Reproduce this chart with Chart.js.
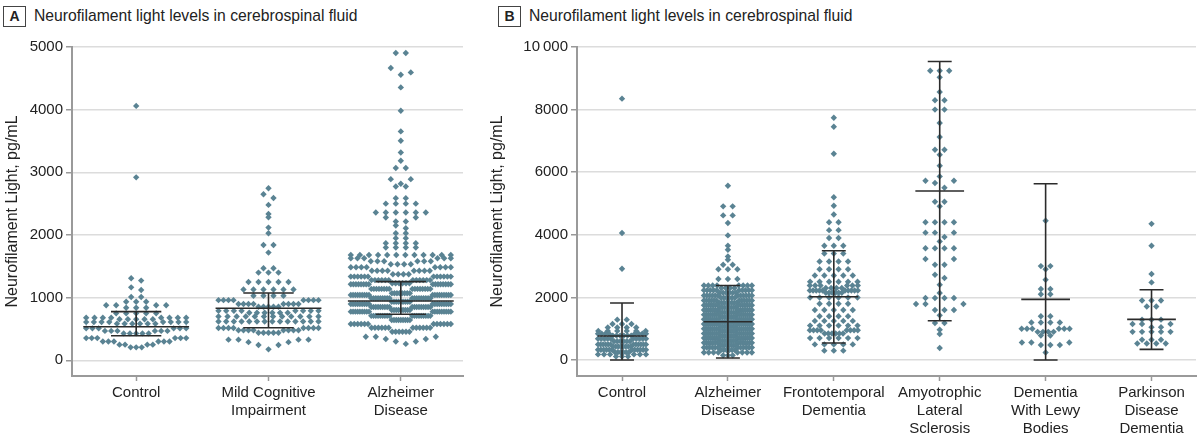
<!DOCTYPE html>
<html>
<head>
<meta charset="utf-8">
<script src="https://cdn.jsdelivr.net/npm/chart.js@4.4.1/dist/chart.umd.min.js"></script>
<style>
  body { margin: 0; background: #fff; font-family: "Liberation Sans", Arial, sans-serif; }
  #wrap { position: relative; width: 1200px; height: 439px; overflow: hidden; }
  .panel { position: absolute; top: 0; height: 439px; }
  .title { position: absolute; top: 6px; font-size: 15.7px; color: #222; white-space: nowrap; line-height: 20px; }
  .tag { display: inline-block; box-sizing: border-box; width: 23px; height: 21px; border: 1px solid #444;
         text-align: center; font-weight: bold; font-size: 14px; line-height: 19px; margin-right: 8px; vertical-align: top; }
</style>
</head>
<body>
<div id="wrap">
  <div class="title" style="left:3px"><span class="tag">A</span>Neurofilament light levels in cerebrospinal fluid</div>
  <div class="title" style="left:498px"><span class="tag">B</span>Neurofilament light levels in cerebrospinal fluid</div>
  <canvas id="chartA" class="panel" style="left:0" width="480" height="439"></canvas>
  <canvas id="chartB" class="panel" style="left:480px" width="720" height="439"></canvas>
</div>
<script>
/**
 * Données (pg/mL).
 * Chaque groupe = liste de rangées ; chaque rangée = niveaux [valeur, nombre],
 * du centre de la rangée vers les bords.
 */

// ---- Panneau A ----
const catsA = [['Control'], ['Mild Cognitive', 'Impairment'], ['Alzheimer', 'Disease']];
const yTicksA = [0, 1000, 2000, 3000, 4000, 5000];
const yLabelsA = ['0', '1000', '2000', '3000', '4000', '5000'];

const controlA = [
    [[4060, 1]], [[2920, 1]],
    [[1272, 1], [1309, 1]], [[1123, 1], [1165, 1]], [[1010, 2]], [[935, 3]],
    [[840, 3], [880, 4]], [[750, 5]], [[655, 5], [680, 8]], [[585, 6], [610, 8]],
    [[430, 5], [470, 6], [510, 6]], [[207, 3], [250, 4], [300, 6], [355, 6]]
];
const mciA = [
    [[2747, 1]], [[2590, 1], [2650, 1]], [[2480, 1]], [[2337, 1]], [[2283, 1]], [[2118, 1]],
    [[2028, 1]], [[1841, 2]], [[1719, 1]], [[1469, 2]], [[1400, 3]], [[1250, 5]], [[1130, 6]],
    [[1030, 4]], [[856, 5], [900, 8], [960, 8]], [[760, 6], [790, 8]], [[700, 12]],
    [[620, 14]], [[440, 5], [480, 8], [515, 8]], [[175, 1], [245, 2], [290, 2], [330, 4]]
];
const adA = [
    [[4904, 2]], [[4558, 1], [4595, 1], [4664, 1]], [[4355, 1]], [[3983, 1]], [[3653, 1]],
    [[3504, 1]], [[3317, 1]], [[3184, 1]], [[3070, 2]], [[2817, 1], [2891, 2]], [[2774, 2]],
    [[2588, 2]], [[2500, 4]], [[2360, 6]], [[2215, 2], [2279, 2]], [[2108, 1], [2151, 1]],
    [[2028, 2]], [[1950, 2]], [[1870, 4]], [[1800, 4]], [[1680, 12]],
    [[1533, 4], [1580, 6], [1630, 6]], [[1374, 4], [1430, 8], [1485, 8]],
    [[1230, 6], [1280, 12], [1336, 12]], [[1070, 8], [1140, 16], [1214, 16]],
    [[936, 9], [990, 18], [1043, 18]], [[803, 9], [850, 18], [899, 18]],
    [[644, 9], [710, 18], [777, 18]], [[457, 6], [520, 12], [580, 12]],
    [[262, 1], [300, 2], [340, 2], [377, 3]]
];
const medianA = [537, 830, 947];
const q1A = [393, 521, 735];
const q3A = [777, 1075, 1256];

// ---- Panneau B ----
const catsB = [['Control'], ['Alzheimer', 'Disease'], ['Frontotemporal', 'Dementia'],
    ['Amyotrophic', 'Lateral', 'Sclerosis'], ['Dementia', 'With Lewy', 'Bodies'],
    ['Parkinson', 'Disease', 'Dementia']];
const yTicksB = [0, 2000, 4000, 6000, 8000, 10000];
const yLabelsB = ['0', '2000', '4000', '6000', '8000', '10\u2009000'];

const controlB = [
    [[8350, 1]], [[4057, 1]], [[2917, 1]],
    [[1290, 2]], [[1150, 3]], [[1040, 4]], [[930, 6]], [[780, 6], [840, 8]],
    [[600, 6], [680, 10]], [[430, 8], [500, 12]], [[250, 6], [330, 12]], [[110, 3], [180, 6]]
];
const adB = [
    [[5569, 1]], [[4909, 2]], [[4620, 2]], [[4376, 1]], [[3982, 1]], [[3652, 1]], [[3524, 1]],
    [[3311, 1]], [[3205, 1]], [[3045, 2]], [[2900, 3]], [[2587, 3]],
    [[2300, 4], [2380, 8]], [[2150, 6], [2230, 10]], [[1990, 6], [2060, 12]],
    [[1830, 8], [1900, 12]], [[1680, 8], [1750, 14]], [[1520, 8], [1600, 14]],
    [[1370, 8], [1450, 16]], [[1220, 8], [1300, 16]], [[1070, 8], [1150, 16]],
    [[920, 8], [1000, 16]], [[770, 8], [850, 16]], [[620, 8], [700, 16]],
    [[470, 8], [550, 14]], [[320, 6], [400, 12]], [[150, 3], [240, 8]]
];
const ftdB = [
    [[7740, 1]], [[7450, 1]], [[6590, 1]], [[5200, 1]], [[4930, 1]], [[4650, 1]], [[4400, 2]],
    [[4150, 2]], [[3900, 2]], [[3650, 3]], [[3400, 3]], [[3150, 4]], [[2900, 4]], [[2700, 5]],
    [[2500, 6]], [[2300, 4], [2380, 6]], [[2150, 6], [2220, 10]], [[2000, 6]], [[1800, 4]],
    [[1600, 5]], [[1400, 4]], [[1250, 5]], [[1100, 6]], [[850, 6], [950, 8]], [[700, 6]],
    [[500, 5]], [[300, 3]]
];
const alsB = [
    [[9240, 3]], [[9030, 1]], [[8562, 1]], [[8300, 2]], [[8000, 2]], [[7570, 1]], [[7124, 1]],
    [[6719, 2]], [[6560, 1]], [[6208, 1]], [[5867, 1]], [[5505, 1], [5654, 1], [5729, 2]],
    [[5058, 2]], [[4909, 1]], [[4400, 4]], [[3929, 1], [4070, 3]], [[3790, 1]], [[3570, 4]],
    [[3045, 2], [3226, 2]], [[2619, 1], [2725, 1]], [[2406, 1]], [[2140, 1]], [[1980, 4]],
    [[1600, 3], [1790, 3]], [[1427, 1]], [[1181, 2]], [[968, 1]], [[830, 1]], [[383, 1]]
];
const dlbB = [
    [[4450, 1]], [[3000, 2]], [[2900, 1]], [[2565, 1]], [[2267, 2]], [[2100, 2]], [[1400, 2]],
    [[1200, 4]], [[900, 4], [1000, 6]], [[780, 2]], [[480, 3], [560, 3]], [[240, 1]]
];
const pddB = [
    [[4350, 1]], [[3650, 1]], [[2747, 1]], [[2480, 1]], [[1900, 3]], [[1710, 2]], [[1290, 3]],
    [[1050, 2], [1150, 3]], [[900, 5]], [[650, 3]], [[530, 4]]
];
const meanB = [767, 1224, 2022, 5400, 1937, 1298];
const upperB = [1821, 2383, 3492, 9537, 5633, 2246];
const lowerB = [0, 64, 543, 1256, 0, 340];

const DOT = '#5a8393';
const INK = '#222';
const FONT = { family: '"Liberation Sans", Arial, sans-serif', size: 15 };

/**
 * Disposition en essaim : chaque rangée est centrée sur la catégorie,
 * les plus petites valeurs au centre, puis alternance droite/gauche.
 */
function swarmPoints(groups, unitPx, maxWidth, maxStep) {
    const pts = [];
    groups.forEach(function(bands, i) {
        bands.forEach(function(levels) {
            const vals = [];
            levels.forEach(function(lv) {
                for (let k = 0; k < lv[1]; k++) vals.push(lv[0]);
            });
            const n = vals.length;
            const step = n > 1 ? Math.min(maxStep, maxWidth / (n - 1)) : 0;
            vals.forEach(function(v, k) {
                let slot;
                if (n % 2) slot = k === 0 ? 0 : Math.ceil(k / 2) * (k % 2 ? 1 : -1);
                else slot = (Math.floor(k / 2) + 0.5) * (k % 2 ? -1 : 1);
                pts.push({ x: i + slot * step / unitPx, y: v });
            });
        });
    });
    return pts;
}

/**
 * Barres : trait vertical, deux capuchons et le trait central large
 */
function barLines(centres, lows, highs, capHalf, midHalf) {
    const d = [];
    centres.forEach(function(m, i) {
        d.push({ x: i, y: lows[i] }, { x: i, y: highs[i] }, { x: i, y: null });
        d.push({ x: i - capHalf, y: highs[i] }, { x: i + capHalf, y: highs[i] }, { x: i, y: null });
        d.push({ x: i - capHalf, y: lows[i] }, { x: i + capHalf, y: lows[i] }, { x: i, y: null });
        d.push({ x: i - midHalf, y: m }, { x: i + midHalf, y: m }, { x: i, y: null });
    });
    return d;
}

function makeChart(canvasId, cfg) {
    const chart = new Chart(document.getElementById(canvasId), {
        type: 'scatter',
        data: {
            datasets: [
                {
                    type: 'line',
                    data: barLines(cfg.centres, cfg.lows, cfg.highs, cfg.capHalf, cfg.midHalf),
                    borderColor: '#2b2b2b',
                    borderWidth: 1.6,
                    pointRadius: 0,
                    spanGaps: false,
                    order: 0
                },
                {
                    data: [],
                    pointStyle: 'rectRot',
                    pointRadius: 3.2,
                    backgroundColor: DOT,
                    borderWidth: 0,
                    order: 1
                }
            ]
        },
        options: {
            responsive: false,
            animation: false,
            layout: { padding: { top: 47, right: cfg.padRight, left: cfg.padLeft, bottom: 0 } },
            plugins: { legend: { display: false }, tooltip: { enabled: false } },
            scales: {
                x: {
                    type: 'linear',
                    min: cfg.xMin,
                    max: cfg.xMax,
                    afterFit: function(s) { s.height = 63; },
                    afterBuildTicks: function(s) { s.ticks = cfg.cats.map(function(c, i) { return { value: i }; }); },
                    ticks: {
                        callback: function(v, i) { return cfg.cats[i]; },
                        autoSkip: false, maxRotation: 0, font: FONT, color: INK, padding: 3
                    },
                    grid: { drawOnChartArea: false, tickColor: '#999', tickLength: 5, tickWidth: 1.5 },
                    border: { color: '#9a9a9a', width: 2 }
                },
                y: {
                    type: 'linear',
                    min: cfg.yMin,
                    max: cfg.yMax,
                    afterFit: function(s) { s.width = cfg.yWidth; },
                    afterBuildTicks: function(s) { s.ticks = cfg.yTicks.map(function(v) { return { value: v }; }); },
                    ticks: {
                        callback: function(v, i) { return cfg.yLabels[i]; },
                        font: FONT, color: INK, padding: 3
                    },
                    grid: { color: '#dcdcdc', lineWidth: 1.5, tickColor: '#999', tickLength: 6, tickWidth: 1.5 },
                    border: { color: '#9a9a9a', width: 2 },
                    title: {
                        display: true, text: 'Neurofilament Light, pg/mL',
                        font: { family: FONT.family, size: 16 }, color: INK, padding: { top: 2, bottom: 2 }
                    }
                }
            }
        }
    });

    // Positions horizontales calculées avec l'échelle de Chart.js
    const sx = chart.scales.x;
    const unitPx = sx.getPixelForValue(1) - sx.getPixelForValue(0);
    chart.data.datasets[1].data = swarmPoints(cfg.groups, unitPx, cfg.maxWidth, cfg.maxStep);
    chart.update('none');
    return chart;
}

document.addEventListener('DOMContentLoaded', function() {
    makeChart('chartA', {
        cats: catsA, yTicks: yTicksA, yLabels: yLabelsA,
        groups: [controlA, mciA, adA],
        centres: medianA, lows: q1A, highs: q3A,
        xMin: -0.485, xMax: 2.47, yMin: -250, yMax: 5000,
        yWidth: 71, padLeft: 1, padRight: 17,
        capHalf: 0.19, midHalf: 0.4, maxWidth: 100, maxStep: 10
    });
    makeChart('chartB', {
        cats: catsB, yTicks: yTicksB, yLabels: yLabelsB,
        groups: [controlB, adB, ftdB, alsB, dlbB, pddB],
        centres: meanB, lows: lowerB, highs: upperB,
        xMin: -0.425, xMax: 5.42, yMin: -510, yMax: 10000,
        yWidth: 91, padLeft: 6, padRight: 3,
        capHalf: 0.113, midHalf: 0.23, maxWidth: 48, maxStep: 9.5
    });
});
</script>
</body>
</html>
